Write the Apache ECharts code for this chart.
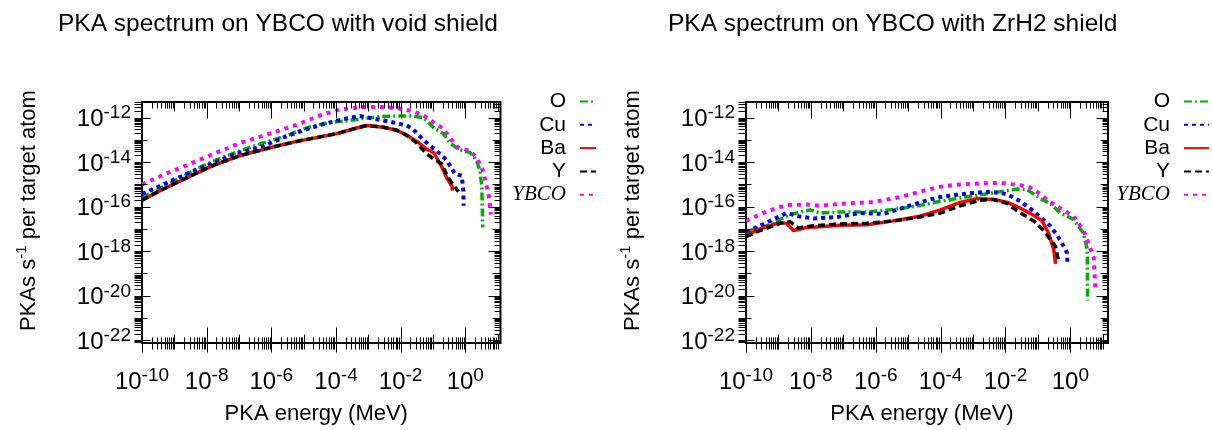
<!DOCTYPE html>
<html><head><meta charset="utf-8">
<script src="https://cdn.jsdelivr.net/npm/echarts@6/dist/echarts.min.js"></script>
<style>html,body{margin:0;padding:0;background:#fff}#c{width:1212px;height:430px}</style>
</head><body><div id="c"></div>
<script>
// ---------- data ----------
const titles = ['PKA spectrum on YBCO with void shield', 'PKA spectrum on YBCO with ZrH2 shield'];
const seriesNames = ['O', 'Cu', 'Ba', 'Y', 'YBCO'];
const xMajorTicks = [1e-10, 1e-8, 1e-6, 1e-4, 1e-2, 1];
const yMajorTicks = [1e-22, 1e-20, 1e-18, 1e-16, 1e-14, 1e-12];

// void shield (energy MeV, PKAs/s per target atom)
const voidO = [[1e-10,2.5e-16],[1.5e-9,1.95e-15],[4.9e-9,5.1e-15],[2.0e-8,1.26e-14],[1.07e-7,3.2e-14],[5.6e-7,7.2e-14],[3.0e-6,1.55e-13],[1.2e-5,3.4e-13],[6.6e-5,6.2e-13],[2.1e-4,7.1e-13],[6.9e-4,9.1e-13],[2.3e-3,1.1e-12],[7.6e-3,1.17e-12],[2.45e-2,1.17e-12],[5.0e-2,1.0e-12],[0.102,3.7e-13],[0.209,1.9e-13],[0.34,7.2e-14],[0.62,3.7e-14],[1.41,2.7e-14],[2.24,1.17e-14],[2.82,4.4e-15],[3.24,8.5e-16],[3.47,1.17e-17]];
const voidCu = [[1e-10,3.7e-16],[4.6e-10,1.0e-15],[2.4e-9,2.95e-15],[1.6e-8,9.1e-15],[8.5e-8,2.45e-14],[5.6e-7,5.2e-14],[2.3e-6,1.26e-13],[9.8e-6,2.7e-13],[4.1e-5,5.1e-13],[1.7e-4,8.5e-13],[5.5e-4,1.17e-12],[1.4e-3,9.1e-13],[4.7e-3,6.5e-13],[1.55e-2,4.4e-13],[2.45e-2,2.95e-13],[5.0e-2,1.0e-13],[0.129,3.2e-14],[0.263,1.26e-14],[0.48,2.95e-15],[0.78,2.45e-15],[0.87,5.2e-16],[0.89,1.1e-16]];
const voidBa = [[1e-10,1.95e-16],[4.6e-10,6.2e-16],[3.0e-9,2.3e-15],[1.6e-8,7.2e-15],[1.07e-7,1.95e-14],[9.1e-7,4.4e-14],[6.0e-6,8.5e-14],[2.5e-5,1.26e-13],[1.05e-4,1.9e-13],[4.4e-4,3.4e-13],[8.9e-4,4.4e-13],[2.9e-3,3.7e-13],[7.6e-3,2.7e-13],[1.55e-2,1.6e-13],[3.2e-2,8.5e-14],[6.5e-2,3.7e-14],[0.105,2.7e-14],[0.186,6.2e-15],[0.269,1.95e-15],[0.38,8.5e-16],[0.41,5.2e-16]];
const voidY = [[1e-10,1.95e-16],[4.6e-10,6.2e-16],[3.0e-9,2.3e-15],[1.6e-8,7.2e-15],[1.07e-7,1.95e-14],[9.1e-7,4.4e-14],[6.0e-6,8.5e-14],[2.5e-5,1.26e-13],[1.05e-4,1.9e-13],[4.4e-4,3.4e-13],[8.9e-4,4.4e-13],[2.9e-3,3.7e-13],[7.6e-3,2.7e-13],[1.55e-2,1.6e-13],[3.2e-2,7.2e-14],[6.5e-2,2.3e-14],[0.105,1.4e-14],[0.186,8.5e-15],[0.269,2.7e-15],[0.38,1.17e-15],[0.62,4.7e-16]];
const voidYBCO = [[1e-10,1.0e-15],[4.6e-10,2.7e-15],[2.4e-9,7.2e-15],[1.6e-8,2.3e-14],[1.07e-7,7.2e-14],[9.1e-7,1.9e-13],[6.0e-6,4.7e-13],[3.2e-5,1.26e-12],[1.3e-4,2.3e-12],[6.9e-4,2.95e-12],[2.3e-3,2.95e-12],[7.6e-3,2.7e-12],[2.45e-2,1.9e-12],[5.0e-2,1.26e-12],[0.102,6.2e-13],[0.209,3.2e-13],[0.34,1.17e-13],[0.62,4.4e-14],[1.41,3.2e-14],[2.24,1.6e-14],[3.63,3.7e-15],[4.57,8.5e-16],[5.5,2.3e-16],[6.17,4.4e-17]];

// ZrH2 shield
const zrhO = [[1e-10,7.2e-18],[4.4e-10,1.4e-17],[2.3e-9,4.4e-17],[9.5e-9,7.2e-17],[1.9e-8,5.2e-17],[7.9e-8,5.8e-17],[5.4e-7,5.8e-17],[2.8e-6,7.2e-17],[1.45e-5,1.0e-16],[9.8e-5,1.74e-16],[4.0e-4,2.45e-16],[1.66e-3,3.4e-16],[6.9e-3,4.7e-16],[2.3e-2,6.2e-16],[4.7e-2,5.8e-16],[0.117,2.3e-16],[0.24,1.4e-16],[0.49,5.2e-17],[1.26,2.7e-17],[2.57,6.2e-18],[3.31,1.17e-18],[3.4,6.2e-21]];
const zrhCu = [[1e-10,7.2e-18],[4.4e-10,1.95e-17],[1.8e-9,5.2e-17],[4.1e-9,3.7e-17],[1.2e-8,2.95e-17],[6.3e-8,3.4e-17],[3.3e-7,5.2e-17],[1.7e-6,4.7e-17],[9.1e-6,1.0e-16],[3.8e-5,1.95e-16],[9.8e-5,2.7e-16],[3.2e-4,3.4e-16],[1.05e-3,4.2e-16],[3.4e-3,4.7e-16],[1.1e-2,3.7e-16],[2.9e-2,1.74e-16],[7.4e-2,6.2e-17],[0.24,1.4e-17],[0.49,3.2e-18],[0.79,8.5e-19],[0.81,2.7e-19]];
const zrhBa = [[1e-10,5.2e-18],[2.7e-10,1.0e-17],[1.1e-9,1.95e-17],[1.8e-9,1.78e-17],[2.9e-9,8.5e-18],[7.4e-9,1.17e-17],[1.9e-8,1.26e-17],[7.9e-8,1.45e-17],[5.4e-7,1.55e-17],[3.5e-6,2.3e-17],[2.3e-5,3.7e-17],[9.8e-5,7.2e-17],[4.0e-4,1.55e-16],[1.3e-3,2.3e-16],[4.3e-3,2.1e-16],[1.1e-2,1.6e-16],[2.9e-2,8.5e-17],[7.4e-2,4.1e-17],[0.135,2.3e-17],[0.214,6.2e-18],[0.31,1.17e-18],[0.35,2.7e-19]];
const zrhY = [[1e-10,4.5e-18],[2.7e-10,8.5e-18],[1.1e-9,1.78e-17],[2.3e-9,2.1e-17],[4.1e-9,1.1e-17],[1.2e-8,1.4e-17],[7.9e-8,1.66e-17],[5.4e-7,1.78e-17],[3.5e-6,2.3e-17],[2.3e-5,3.4e-17],[9.8e-5,5.2e-17],[4.0e-4,1.1e-16],[1.66e-3,1.95e-16],[4.3e-3,2.1e-16],[1.1e-2,1.4e-16],[2.9e-2,5.2e-17],[7.4e-2,2.3e-17],[0.151,8.5e-18],[0.347,1.66e-18],[0.43,3.9e-19]];
const zrhYBCO = [[1e-10,2.3e-17],[4.4e-10,6.2e-17],[1.8e-9,1.17e-16],[7.4e-9,1.26e-16],[1.9e-8,1.1e-16],[1.3e-7,1.4e-16],[8.5e-7,1.6e-16],[5.6e-6,2.7e-16],[2.3e-5,4.7e-16],[9.8e-5,7.9e-16],[4.0e-4,1.0e-15],[1.66e-3,1.1e-15],[6.9e-3,1.17e-15],[2.9e-2,9.1e-16],[5.9e-2,7.2e-16],[0.117,3.7e-16],[0.24,1.6e-16],[0.49,8.5e-17],[1.26,3.7e-17],[2.57,8.5e-18],[5.25,5.2e-19],[5.9,2.2e-20]];

// ---------- styling / layout ----------
// Both axes are drawn in log10 space (value axes) with 10^n labels.
const FONT = 'Liberation Sans';
const lg = Math.log10;
const X_MIN = 1e-10, X_MAX = [12.3, 14.5];
const Y_MIN = 7.5e-23, Y_MAX = 5e-12;
const styles = {
  O:    {color: '#00b000', width: 3.5, type: [8, 3, 2, 3]},
  Cu:   {color: '#0000ff', width: 4,   type: [4, 4]},
  Ba:   {color: '#ff0000', width: 3.5, type: 'solid'},
  Y:    {color: '#000000', width: 3.5, type: [7, 4]},
  YBCO: {color: '#ff00ff', width: 4,   type: [4, 5]}
};
const panels = [
  {data: [voidO, voidCu, voidBa, voidY, voidYBCO], grid: {left: 142, top: 102, right: 711.5, bottom: 75.5}, legendRight: 615, iconW: 16},
  {data: [zrhO, zrhCu, zrhBa, zrhY, zrhYBCO], grid: {left: 746, top: 102, right: 104, bottom: 75.5}, legendRight: 2, iconW: 25}
];

function expLabel(v) {
  const r = Math.round(v);
  if (Math.abs(v - r) > 1e-6) return '';
  return '10{s|' + r + '}';
}

function buildTicks(xmin, xmax, ymin, ymax) {
  const d = [];
  const X0 = lg(xmin), X1 = lg(xmax), Y0 = lg(ymin), Y1 = lg(ymax);
  for (let n = -10; n <= 1; n++) for (let k = 1; k <= 9; k++) {
    const v = n + lg(k);
    if (v < X0 - 1e-6 || v > X1 + 1e-6) continue;
    const major = k === 1 && n % 2 === 0, mid = k === 1 && !major;
    d.push([v, Y0, 0, major ? 16 : (mid ? 9 : 6), major ? 9 : 6]);
    d.push([v, Y1, 1, major ? 16 : (mid ? 9 : 6), 0]);
  }
  for (let n = -23; n <= -12; n++) for (let k = 1; k <= 9; k++) {
    const v = n + lg(k);
    if (v < Y0 - 1e-6 || v > Y1 + 1e-6) continue;
    const major = k === 1 && n % 2 === 0, mid = k === 1 && !major;
    d.push([X0, v, 2, major ? 8 : (mid ? 5 : 0), 8]);
    d.push([X1, v, 3, major ? 12 : (mid ? 8 : 6), 0]);
  }
  return d;
}
function tickRender(params, api) {
  const side = api.value(2), lin = api.value(3), lout = api.value(4);
  const p = api.coord([api.value(0), api.value(1)]);
  const px = Math.round(p[0]) + 0.5, py = Math.round(p[1]) + 0.5;
  let s;
  if (side === 0) s = {x1: px, x2: px, y1: py - lin, y2: py + lout};
  else if (side === 1) s = {x1: px, x2: px, y1: py - lout, y2: py + lin};
  else if (side === 2) s = {y1: py, y2: py, x1: px - lout, x2: px + lin};
  else s = {y1: py, y2: py, x1: px - lin, x2: px + lout};
  return {type: 'line', shape: s, style: {stroke: '#000', lineWidth: 1}};
}
const labelRich = {s: {fontSize: 19, lineHeight: 19, verticalAlign: 'top', color: '#000', fontFamily: FONT}};

const option = {
  animation: false,
  backgroundColor: '#fff',
  title: [
    {text: titles[0], left: 58, top: 12, padding: 0, textStyle: {fontSize: 24.5, fontWeight: 'normal', color: '#000', fontFamily: FONT}},
    {text: titles[1], left: 668, top: 12, padding: 0, textStyle: {fontSize: 24.5, fontWeight: 'normal', color: '#000', fontFamily: FONT}}
  ],
  grid: panels.map(p => Object.assign({show: true, borderColor: '#000', borderWidth: 2}, p.grid)),
  legend: panels.map(p => ({
    orient: 'vertical', right: p.legendRight, top: 91, align: 'right', padding: 0,
    itemWidth: p.iconW, itemHeight: 10, itemGap: 2.3, selectedMode: false,
    itemStyle: {opacity: 0},
    textStyle: {fontSize: 21, lineHeight: 21, color: '#000', fontFamily: FONT, padding: [0, 9, 0, 0]},
    data: seriesNames.map(n => n === 'YBCO'
      ? {name: n, textStyle: {fontFamily: 'Liberation Serif', fontStyle: 'italic', fontSize: 21}}
      : {name: n})
  })),
  xAxis: panels.map((p, i) => ({
    type: 'value', gridIndex: i, min: lg(X_MIN), max: lg(X_MAX[i]),
    name: 'PKA energy (MeV)', nameLocation: 'middle', nameGap: 47,
    nameTextStyle: {fontSize: 22, color: '#000', fontFamily: FONT, padding: [0, 10, 0, 0]},
    axisLine: {show: false}, axisTick: {show: false}, splitLine: {show: false},
    axisLabel: {customValues: xMajorTicks.map(lg), formatter: expLabel, margin: 23, fontSize: 24, lineHeight: 32,
      color: '#000', fontFamily: FONT, hideOverlap: false, rich: labelRich}
  })),
  yAxis: panels.map((p, i) => ({
    type: 'value', gridIndex: i, min: lg(Y_MIN), max: lg(Y_MAX),
    name: 'PKAs s{s|-1} per target atom', nameLocation: 'middle', nameGap: 98, nameRotate: 90,
    nameTextStyle: {fontSize: 22, lineHeight: 30, color: '#000', fontFamily: FONT, padding: [0, 0, 0, 24],
      rich: {s: {fontSize: 15, lineHeight: 15, verticalAlign: 'top', color: '#000', fontFamily: FONT}}},
    axisLine: {show: false}, axisTick: {show: false}, splitLine: {show: false},
    axisLabel: {customValues: yMajorTicks.map(lg), formatter: expLabel, margin: 11, fontSize: 24, lineHeight: 32,
      padding: [4, 0, 0, 0], color: '#000', fontFamily: FONT, hideOverlap: false, rich: labelRich}
  })),
  series: []
};

panels.forEach((p, i) => {
  option.series.push({
    type: 'custom', name: 'ticks' + i, xAxisIndex: i, yAxisIndex: i, silent: true, clip: false, z: 5,
    renderItem: tickRender, encode: {x: 0, y: 1},
    data: buildTicks(X_MIN, X_MAX[i], Y_MIN, Y_MAX)
  });
  p.data.forEach((d, j) => {
    const st = styles[seriesNames[j]];
    option.series.push({
      type: 'line', name: seriesNames[j], xAxisIndex: i, yAxisIndex: i,
      data: d.map(pt => [lg(pt[0]), lg(pt[1])]),
      symbol: 'none', showSymbol: false, silent: true, clip: true, z: 2 + j * 0.01,
      color: st.color,
      lineStyle: {color: st.color, width: st.width, type: st.type, cap: 'butt', join: 'round'}
    });
  });
});

const chart = echarts.init(document.getElementById('c'), null, {renderer: 'canvas'});
chart.setOption(option);
</script>
</body></html>
